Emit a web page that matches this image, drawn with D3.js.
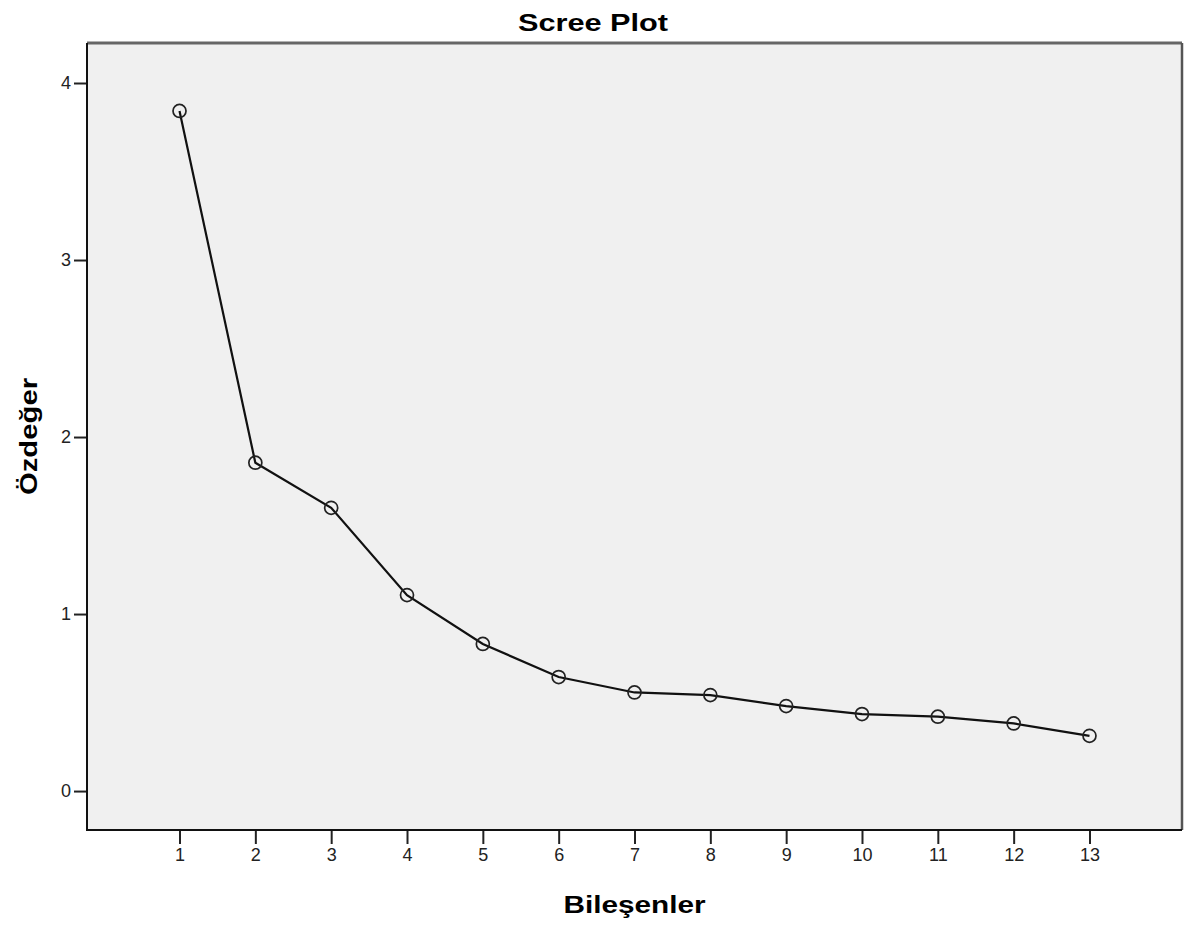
<!DOCTYPE html>
<html>
<head>
<meta charset="utf-8">
<script src="https://cdn.jsdelivr.net/npm/d3@7"></script>
<style>
  body { margin: 0; background: #fff; }
  svg { display: block; }
</style>
</head>
<body>
<div id="chart"></div>
<script>
// scree plot data
var components = [1, 2, 3, 4, 5, 6, 7, 8, 9, 10, 11, 12, 13];
var eigenvalues = [3.842, 1.855, 1.600, 1.107, 0.831, 0.644, 0.557, 0.542, 0.480, 0.435, 0.420, 0.382, 0.312];
var yTicks = [0, 1, 2, 3, 4];

var W = 1188, H = 927;
var m = { left: 87, right: 6, top: 43, bottom: 97 };
var font = 'Liberation Sans, Arial, sans-serif';

var svg = d3.select('#chart').append('svg')
  .attr('width', W)
  .attr('height', H);

var xScale = d3.scaleLinear().domain([-0.22, 14.22]).range([m.left, W - m.right]);
var yScale = d3.scaleLinear().domain([-0.22, 4.226]).range([H - m.bottom, m.top]);

// plot background
svg.append('rect')
  .attr('x', m.left)
  .attr('y', m.top)
  .attr('width', W - m.right - m.left)
  .attr('height', H - m.bottom - m.top)
  .attr('fill', '#f0f0f0');

// axes
var xAxis = d3.axisBottom(xScale).tickValues(components).tickSize(14).tickSizeOuter(0).tickPadding(4);
var yAxis = d3.axisLeft(yScale).tickValues(yTicks).tickFormat(d3.format('d'))
  .tickSize(13).tickSizeOuter(0).tickPadding(3);

var gx = svg.append('g')
  .attr('class', 'xaxis')
  .attr('transform', 'translate(0,' + (H - m.bottom) + ')')
  .call(xAxis);

var gy = svg.append('g')
  .attr('class', 'yaxis')
  .attr('transform', 'translate(' + m.left + ',0)')
  .call(yAxis);

[gx, gy].forEach(function (g) {
  g.select('.domain').remove();
  g.selectAll('line').attr('stroke', '#222').attr('stroke-width', 2);
  g.selectAll('text')
    .attr('font-family', font)
    .attr('font-size', 18)
    .attr('fill', '#222');
});

// frame
svg.append('line')
  .attr('x1', m.left).attr('x2', W - m.right)
  .attr('y1', m.top).attr('y2', m.top)
  .attr('stroke', '#666').attr('stroke-width', 3);
svg.append('line')
  .attr('x1', W - m.right).attr('x2', W - m.right)
  .attr('y1', m.top).attr('y2', H - m.bottom)
  .attr('stroke', '#555').attr('stroke-width', 2.5);
svg.append('line')
  .attr('x1', m.left).attr('x2', m.left)
  .attr('y1', m.top).attr('y2', H - m.bottom + 1)
  .attr('stroke', '#111').attr('stroke-width', 2);
svg.append('line')
  .attr('x1', m.left).attr('x2', W - m.right)
  .attr('y1', H - m.bottom).attr('y2', H - m.bottom)
  .attr('stroke', '#111').attr('stroke-width', 2);

// line
var line = d3.line()
  .x(function (d, i) { return xScale(components[i]); })
  .y(function (d) { return yScale(d); });

svg.append('path')
  .datum(eigenvalues)
  .attr('d', line)
  .attr('fill', 'none')
  .attr('stroke', '#111')
  .attr('stroke-width', 2.2);

// markers
svg.selectAll('circle.pt')
  .data(eigenvalues)
  .enter().append('circle')
  .attr('class', 'pt')
  .attr('cx', function (d, i) { return xScale(components[i]); })
  .attr('cy', function (d) { return yScale(d); })
  .attr('r', 6.5)
  .attr('fill', 'none')
  .attr('stroke', '#222')
  .attr('stroke-width', 1.7);

// title and labels (reference glyphs are wider than Arial, so stretch along the text)
function label(transform, txt) {
  svg.append('text')
    .attr('transform', transform)
    .attr('text-anchor', 'middle')
    .attr('font-family', font)
    .attr('font-weight', 'bold')
    .attr('font-size', 24)
    .text(txt);
}

label('translate(593,31) scale(1.28,1)', 'Scree Plot');
label('translate(' + ((m.left + W - m.right) / 2) + ',913) scale(1.24,1)', 'Bileşenler');
label('translate(37,' + ((m.top + H - m.bottom) / 2) + ') rotate(270) scale(1.22,1)', 'Özdeğer');
</script>
</body>
</html>
